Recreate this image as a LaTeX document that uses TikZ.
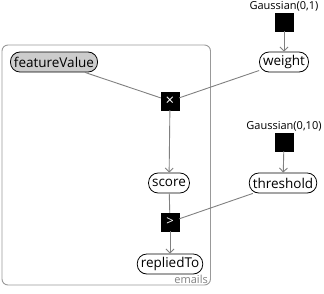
\documentclass[tikz,border=0pt]{standalone}
\usepackage{fontspec}
\setmainfont{Open Sans}
\usetikzlibrary{arrows.meta}
\begin{document}
\begin{tikzpicture}[x=1pt,y=-1pt,
  var/.style={draw=black, line width=0.8pt, rounded corners=9.5pt, minimum height=20pt, inner xsep=3.5pt, inner ysep=0pt, font=\fontsize{13.5}{14}\selectfont, fill=white},
  obs/.style={var, fill=black!20},
  fac/.style={draw=black, fill=black, minimum size=18pt, inner sep=0pt, text=white, font=\fontsize{13}{14}\selectfont},
  prior/.style={font=\fontsize{11}{12}\selectfont, inner sep=1pt},
  edge/.style={draw=black!50, line width=0.9pt},
  arr/.style={edge, -{Straight Barb[length=4pt,width=8pt]}},
  plate/.style={draw=black!40, line width=0.9pt, rounded corners=6pt}]
\useasboundingbox (0,0) rectangle (324,293);
\draw[plate] (2,45) rectangle (210.5,285);
\node[font=\fontsize{11}{12}\selectfont, text=black!50, anchor=south east, inner sep=1pt] (emails) at (209,285) {emails};
\node[obs] (fv) at (54,62) {featureValue};
\node[fac] (times) at (170,101) {\fontsize{15}{15}\selectfont ×};
\node[var] (weight) at (284,62) {weight};
\node[fac] (g1) at (284,22) {};
\node[prior, anchor=south] (g1l) at (284,12) {Gaussian(0,1)};
\node[var] (score) at (169,183) {score};
\node[fac] (gt) at (170,222) {>};
\node[var] (rt) at (170,264) {repliedTo};
\node[var] (th) at (283,183) {threshold};
\node[fac] (g2) at (284,142) {};
\node[prior, anchor=south] (g2l) at (284,132) {Gaussian(0,10)};
\draw[edge] (fv) -- (times);
\draw[edge] (weight) -- (times);
\draw[arr] (times) -- (score);
\draw[edge] (score) -- (gt);
\draw[edge] (th) -- (gt);
\draw[arr] (gt) -- (rt);
\draw[arr] (g1) -- (weight);
\draw[arr] (g2) -- (th);
\end{tikzpicture}
\end{document}
